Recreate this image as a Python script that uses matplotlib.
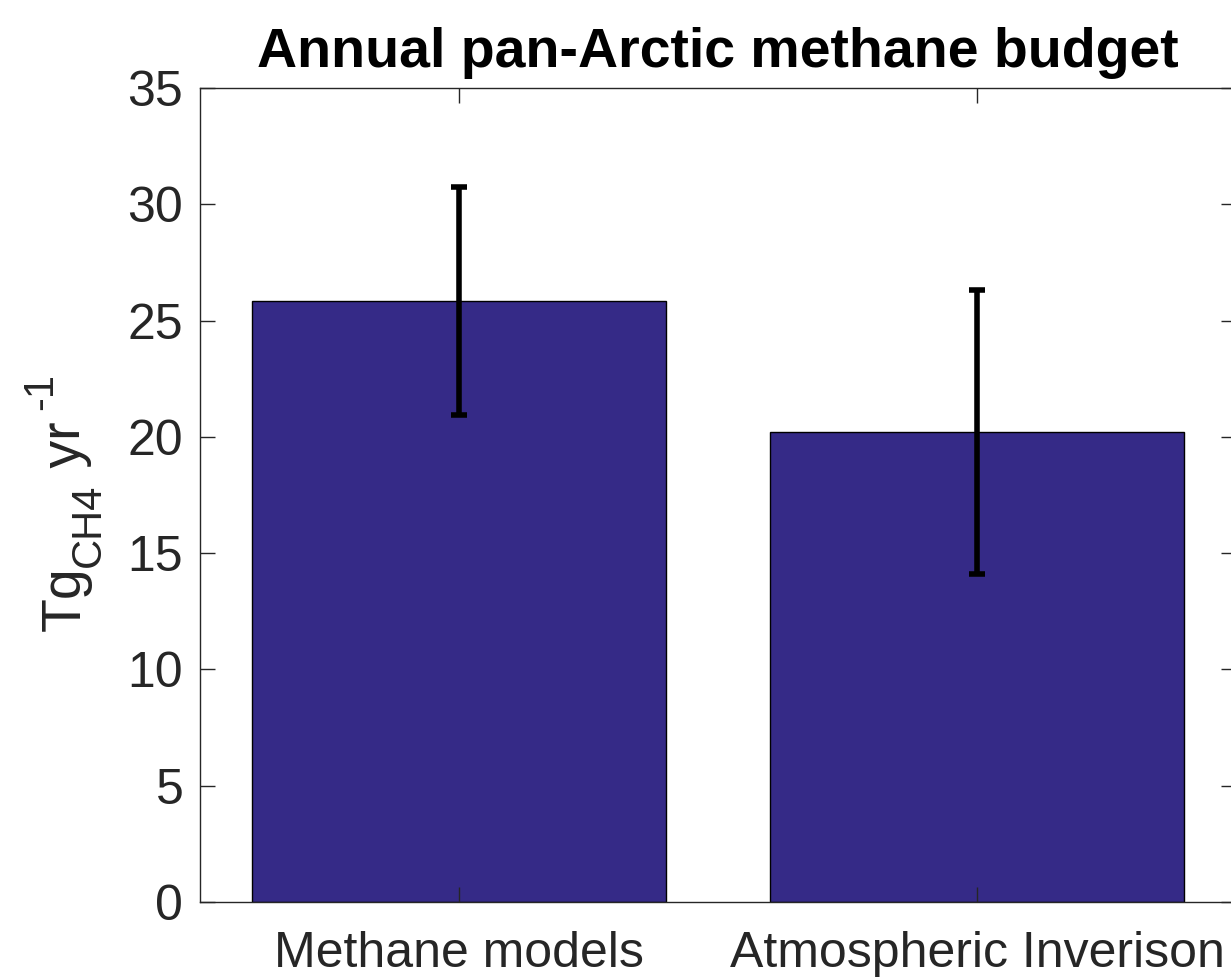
import numpy as np
import matplotlib
matplotlib.use("Agg")
import matplotlib.pyplot as plt
from matplotlib.transforms import IdentityTransform

plt.rcParams['font.family'] = ['Liberation Sans', 'DejaVu Sans']

# data
categories = ['Methane models', 'Atmospheric Inverison']
budget = [25.85, 20.2]
spread = [4.9, 6.1]

bar_color = '#352A87'
grey = '#262626'

fig = plt.figure(figsize=(12.31, 9.8), dpi=100)
ax = fig.add_axes([200 / 1231, 78 / 980, 1036 / 1231, 814 / 980])

x = np.arange(1, len(categories) + 1)
ax.bar(x, budget, width=0.8, color=bar_color, edgecolor='black', linewidth=1)
ax.errorbar(x, budget, yerr=spread, fmt='none', ecolor='black',
            elinewidth=4, capsize=5.5, capthick=4)

ax.set_xlim(0.5, 2.5)
ax.set_ylim(0, 35)
ax.set_yticks(np.arange(0, 36, 5))
ax.set_xticks(x)
ax.set_xticklabels(categories)

ax.tick_params(direction='in', length=11, width=1, colors=grey,
               labelsize=36, top=True, right=True)
ax.tick_params(axis='y', pad=12)
ax.tick_params(axis='x', pad=21)
for s in ax.spines.values():
    s.set_color(grey)
    s.set_linewidth(1)

ax.set_title('Annual pan-Arctic methane budget', fontsize=40, fontweight='bold',
             color='black', pad=15)

# y label built piece by piece, MATLAB tex style (big sub/superscripts)
# (text, fontsize, baseline shift in px: + is lower, gap before in px)
pieces = [('Tg', 40, 0, 0), ('CH4', 30, 20, 0), (' yr', 40, 0, 0), ('-1', 30, -28, 12)]
base_x = 80
centre_y = 980 - 502

fig.canvas.draw()
renderer = fig.canvas.get_renderer()
texts = []
for s, fs, shift, gap in pieces:
    t = fig.text(0, 0, s, fontsize=fs, color=grey, rotation=90,
                 rotation_mode='anchor', ha='left', va='baseline',
                 transform=IdentityTransform())
    texts.append(t)
lengths = [t.get_window_extent(renderer).height for t in texts]
total = sum(lengths) + sum(p[3] for p in pieces)
cursor = centre_y - total / 2
for t, ln, (s, fs, shift, gap) in zip(texts, lengths, pieces):
    cursor += gap
    t.set_position((base_x + shift, cursor))
    cursor += ln

fig.savefig('out.png', dpi=100)
